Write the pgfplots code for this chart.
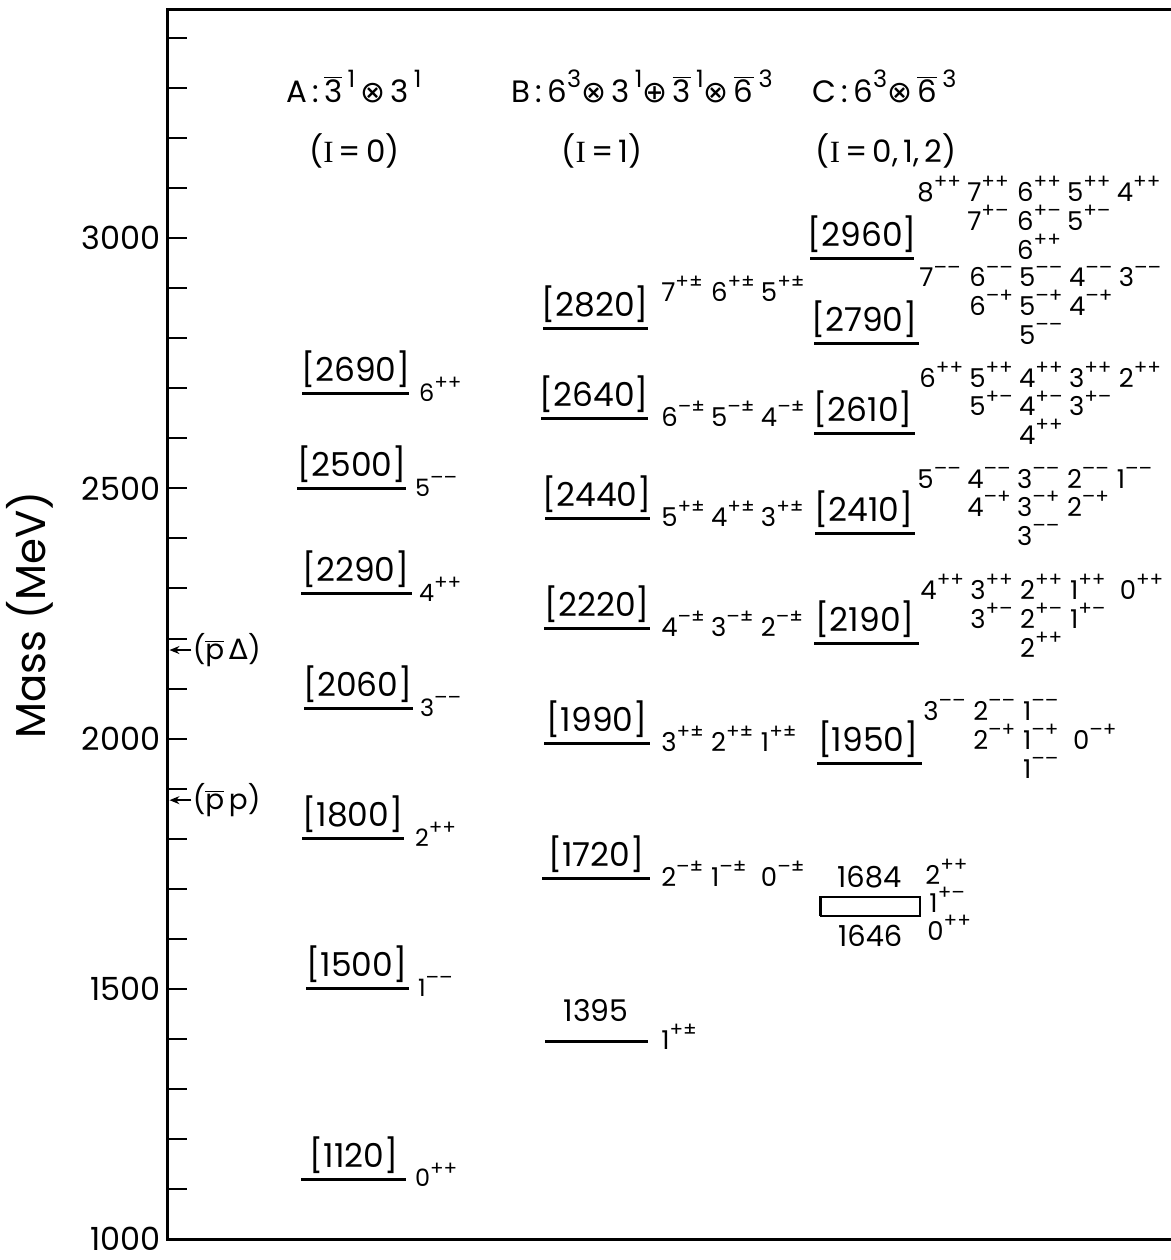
\documentclass[border=0pt]{standalone}
\usepackage{fontspec}
\setmainfont{Poppins}
\newfontfamily\serif{Liberation Serif}
\newfontfamily\dejavu{DejaVu Sans}
\usepackage{pgfplots}
\pgfplotsset{compat=1.18}
\usetikzlibrary{arrows.meta}

% raised signs of a J^PC label, and one entry in a fixed-width cell
\newcommand{\sups}[1]{\raisebox{0.5em}{\fontsize{10}{10}\selectfont #1}}
\newcommand{\jp}[2]{\makebox[25pt][l]{#1\sups{#2}}}
\newcommand{\sk}{\makebox[25pt]{}}
\newcommand{\ob}[1]{$\overline{\mbox{#1}}$}
\newcommand{\hsup}[1]{\raisebox{0.5em}{\fontsize{12}{12}\selectfont #1}}
\newcommand{\ox}{{\dejavu\fontsize{15}{15}\selectfont ⊗}}
\newcommand{\op}{{\dejavu\fontsize{15}{15}\selectfont ⊕}}

\tikzset{
  mlab/.style={anchor=base, inner sep=0pt, font=\fontsize{16.5}{18}\selectfont},
  jA/.style={anchor=base west, inner sep=0pt, font=\fontsize{12}{13}\selectfont},
  jB/.style={anchor=base west, inner sep=0pt, font=\fontsize{13}{13}\selectfont},
  jC/.style={anchor=south west, inner sep=0pt, align=left, font=\fontsize{13}{13}\selectfont},
  hd/.style={anchor=base west, inner sep=0pt, font=\fontsize{15.5}{18}\selectfont},
}

\begin{document}
\begin{tikzpicture}
\useasboundingbox (0,-2pt) rectangle (587pt,630pt);
\begin{axis}[
  at={(84pt,8.5pt)}, anchor=south west,
  scale only axis, width=506pt, height=616.5pt,
  xmin=168, xmax=1180, ymin=1000, ymax=3456,
  xtick=\empty,
  ytick={1000,1500,...,3000},
  minor ytick={1100,1200,...,3400},
  ytick pos=left, tick align=inside,
  major tick length=10pt, minor tick length=10pt,
  every tick/.style={black, line width=1pt},
  axis line style={line width=1.5pt},
  yticklabel style={font=\fontsize{16}{16}\selectfont, inner ysep=0pt},
  /pgf/number format/assume math mode=true,
  /pgf/number format/1000 sep={},
  clip=false,
  unbounded coords=jump,
]
% A: 3bar x 3  (I=0)
\addplot[black, line width=1.5pt] coordinates {
  (303,2690) (410,2690) (nan,nan)
  (298,2500) (407,2500) (nan,nan)
  (302,2290) (413,2290) (nan,nan)
  (305,2060) (414,2060) (nan,nan)
  (303,1800) (405,1800) (nan,nan)
  (307,1500) (410,1500) (nan,nan)
  (302,1120) (407,1120)
};
% B  (I=1)
\addplot[black, line width=1.5pt] coordinates {
  (545,2820) (650,2820) (nan,nan)
  (543,2640) (650,2640) (nan,nan)
  (547,2440) (652,2440) (nan,nan)
  (546,2220) (652,2220) (nan,nan)
  (546,1990) (652,1990) (nan,nan)
  (544,1720) (652,1720) (nan,nan)
  (547,1395) (650,1395)
};
% C  (I=0,1,2)
\addplot[black, line width=1.5pt] coordinates {
  (813,2960) (917,2960) (nan,nan)
  (817,2790) (922,2790) (nan,nan)
  (817,2610) (918,2610) (nan,nan)
  (818,2410) (918,2410) (nan,nan)
  (817,2190) (922,2190) (nan,nan)
  (820,1950) (925,1950)
};
% 1646-1684 band
\addplot[black, line width=1.2pt] coordinates {
  (823,1646) (923,1646) (923,1684) (823,1684) (823,1646)
};

% headers
\node[hd] at (axis cs:287,3271) {A\,:\,\ob{3}\,\hsup{1}\,\ox\,3\,\hsup{1}};
\node[hd] at (axis cs:310,3151) {({\serif I}\,=\,0)};
\node[hd] at (axis cs:513,3271) {B\,:\,6\hsup{3}\ox\,3\,\hsup{1}\op\,\ob{3}\,\hsup{1}\ox\,\ob{6}\,\hsup{3}};
\node[hd] at (axis cs:563,3151) {({\serif I}\,=\,1)};
\node[hd] at (axis cs:815,3271) {C\,:\,6\hsup{3}\ox\,\ob{6}\,\hsup{3}};
\node[hd] at (axis cs:818,3151) {({\serif I}\,=\,0,\,1,\,2)};

% thresholds
\draw[-{Stealth[length=5pt,width=4pt]}, line width=0.8pt] (axis cs:192,2177) -- (axis cs:170,2177);
\node[anchor=west, inner sep=0pt, font=\fontsize{14}{16}\selectfont] at (axis cs:193,2177) {(\ob{p}\,{\dejavu Δ})};
\draw[-{Stealth[length=5pt,width=4pt]}, line width=0.8pt] (axis cs:192,1877) -- (axis cs:170,1877);
\node[anchor=west, inner sep=0pt, font=\fontsize{14}{16}\selectfont] at (axis cs:193,1877) {(\ob{p}\,p)};

% A mass labels and J^PC
\node[mlab, yshift=6pt] at (axis cs:357,2690) {[2690]};
\node[mlab, yshift=6pt] at (axis cs:353,2500) {[2500]};
\node[mlab, yshift=6pt] at (axis cs:357,2290) {[2290]};
\node[mlab, yshift=6pt] at (axis cs:359,2060) {[2060]};
\node[mlab, yshift=6pt] at (axis cs:354,1800) {[1800]};
\node[mlab, yshift=6pt] at (axis cs:358,1500) {[1500]};
\node[mlab, yshift=6pt] at (axis cs:355,1120) {[1120]};
\node[jA, yshift=-4pt] at (axis cs:420,2690) {6\sups{++}};
\node[jA, yshift=-4pt] at (axis cs:416,2500) {5\sups{––}};
\node[jA, yshift=-4pt] at (axis cs:420,2290) {4\sups{++}};
\node[jA, yshift=-4pt] at (axis cs:421,2060) {3\sups{––}};
\node[jA, yshift=-4pt] at (axis cs:416,1800) {2\sups{++}};
\node[jA, yshift=-4pt] at (axis cs:419,1500) {1\sups{––}};
\node[jA, yshift=-4pt] at (axis cs:416,1120) {0\sups{++}};

% B mass labels and J^PC
\node[mlab, yshift=6pt] at (axis cs:597,2820) {[2820]};
\node[mlab, yshift=6pt] at (axis cs:596,2640) {[2640]};
\node[mlab, yshift=6pt] at (axis cs:599,2440) {[2440]};
\node[mlab, yshift=6pt] at (axis cs:599,2220) {[2220]};
\node[mlab, yshift=6pt] at (axis cs:599,1990) {[1990]};
\node[mlab, yshift=6pt] at (axis cs:598,1720) {[1720]};
\node[mlab, yshift=10pt, font=\fontsize{15}{18}\selectfont] at (axis cs:598,1395) {1395};
\node[jB, yshift=13.5pt] at (axis cs:663,2820) {\jp{7}{+±}\jp{6}{+±}\jp{5}{+±}};
\node[jB, yshift=-4pt] at (axis cs:663,2640) {\jp{6}{–±}\jp{5}{–±}\jp{4}{–±}};
\node[jB, yshift=-4pt] at (axis cs:663,2440) {\jp{5}{+±}\jp{4}{+±}\jp{3}{+±}};
\node[jB, yshift=-4pt] at (axis cs:663,2220) {\jp{4}{–±}\jp{3}{–±}\jp{2}{–±}};
\node[jB, yshift=-4pt] at (axis cs:663,1990) {\jp{3}{+±}\jp{2}{+±}\jp{1}{+±}};
\node[jB, yshift=-4pt] at (axis cs:663,1720) {\jp{2}{–±}\jp{1}{–±}\jp{0}{–±}};
\node[jB, yshift=-4pt] at (axis cs:663,1395) {\jp{1}{+±}};

% C mass labels and J^PC multiplets
\node[mlab, yshift=6pt] at (axis cs:865,2960) {[2960]};
\node[mlab, yshift=6pt] at (axis cs:867,2790) {[2790]};
\node[mlab, yshift=6pt] at (axis cs:866,2610) {[2610]};
\node[mlab, yshift=6pt] at (axis cs:867,2410) {[2410]};
\node[mlab, yshift=6pt] at (axis cs:868,2190) {[2190]};
\node[mlab, yshift=6pt] at (axis cs:871,1950) {[1950]};
\node[jC, yshift=-1pt] at (axis cs:920,2960) {\jp{8}{++}\jp{7}{++}\jp{6}{++}\jp{5}{++}\jp{4}{++}\\[1.5pt]
  \sk\jp{7}{+–}\jp{6}{+–}\jp{5}{+–}\\[1.5pt] \sk\sk\jp{6}{++}};
\node[jC, yshift=-1pt] at (axis cs:922,2790) {\jp{7}{––}\jp{6}{––}\jp{5}{––}\jp{4}{––}\jp{3}{––}\\[1.5pt]
  \sk\jp{6}{–+}\jp{5}{–+}\jp{4}{–+}\\[1.5pt] \sk\sk\jp{5}{––}};
\node[jC, yshift=-6pt] at (axis cs:922,2610) {\jp{6}{++}\jp{5}{++}\jp{4}{++}\jp{3}{++}\jp{2}{++}\\[1.5pt]
  \sk\jp{5}{+–}\jp{4}{+–}\jp{3}{+–}\\[1.5pt] \sk\sk\jp{4}{++}};
\node[jC, yshift=-6.5pt] at (axis cs:920,2410) {\jp{5}{––}\jp{4}{––}\jp{3}{––}\jp{2}{––}\jp{1}{––}\\[1.5pt]
  \sk\jp{4}{–+}\jp{3}{–+}\jp{2}{–+}\\[1.5pt] \sk\sk\jp{3}{––}};
\node[jC, yshift=-7pt] at (axis cs:923,2190) {\jp{4}{++}\jp{3}{++}\jp{2}{++}\jp{1}{++}\jp{0}{++}\\[1.5pt]
  \sk\jp{3}{+–}\jp{2}{+–}\jp{1}{+–}\\[1.5pt] \sk\sk\jp{2}{++}};
\node[jC, yshift=-7.5pt] at (axis cs:926,1950) {\jp{3}{––}\jp{2}{––}\jp{1}{––}\\[1.5pt]
  \sk\jp{2}{–+}\jp{1}{–+}\jp{0}{–+}\\[1.5pt] \sk\sk\jp{1}{––}};

% band labels
\node[anchor=base, inner sep=0pt, font=\fontsize{14.5}{16}\selectfont, yshift=4.8pt] at (axis cs:872,1684) {1684};
\node[anchor=base, inner sep=0pt, font=\fontsize{14.5}{16}\selectfont, yshift=-15.5pt] at (axis cs:873,1646) {1646};
\node[jB, yshift=6.3pt] at (axis cs:928,1684) {2\sups{++}};
\node[jB, yshift=-7.7pt] at (axis cs:932,1684) {1\sups{+–}};
\node[jB, yshift=-21.7pt] at (axis cs:930,1684) {0\sups{++}};
\end{axis}
\node[rotate=90, anchor=center, font=\fontsize{21}{24}\selectfont] at (15pt,321.5pt) {Mass (MeV)};
\end{tikzpicture}
\end{document}
